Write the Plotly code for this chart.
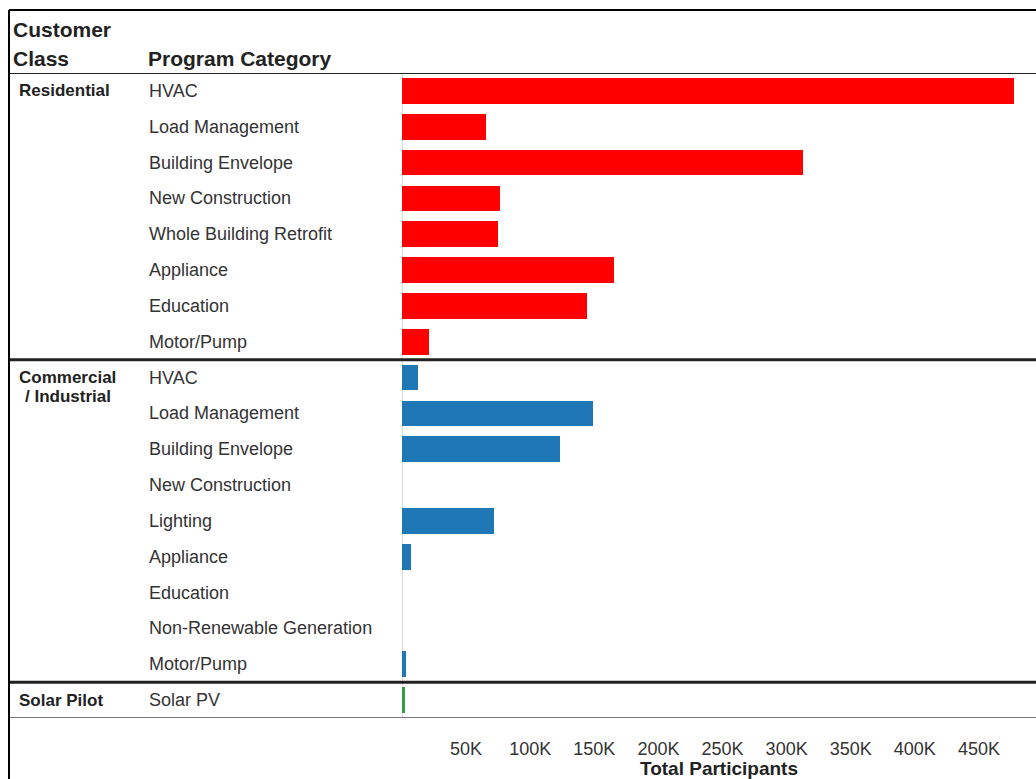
import plotly.graph_objects as go

W, H = 1036, 779

# Customer classes and their program categories (participants per category)
class_names = ["Residential", "Commercial<br>/ Industrial", "Solar Pilot"]
class_colors = ["#ff0000", "#1f77b6", "#2ca24a"]

residential_programs = ["HVAC", "Load Management", "Building Envelope", "New Construction",
                        "Whole Building Retrofit", "Appliance", "Education", "Motor/Pump"]
residential_values = [477000, 65500, 313000, 76500, 75000, 165000, 144500, 21000]

commercial_programs = ["HVAC", "Load Management", "Building Envelope", "New Construction",
                       "Lighting", "Appliance", "Education", "Non-Renewable Generation",
                       "Motor/Pump"]
commercial_values = [12500, 149000, 123000, 0, 72000, 7000, 0, 0, 3000]

solar_programs = ["Solar PV"]
solar_values = [2000]

tick_values = [50000, 100000, 150000, 200000, 250000, 300000, 350000, 400000, 450000]
tick_labels = ["50K", "100K", "150K", "200K", "250K", "300K", "350K", "400K", "450K"]

groups = [
    (class_names[0], residential_programs, residential_values, class_colors[0]),
    (class_names[1], commercial_programs, commercial_values, class_colors[1]),
    (class_names[2], solar_programs, solar_values, class_colors[2]),
]

FONT = "Liberation Sans, Arial, sans-serif"
ROW_PX = (718 - 73) / 18.0


def px_x(px):
    return px / W


def px_y(py):
    return 1 - py / H


fig = go.Figure()
annotations = []
shapes = []

label_font = dict(family=FONT, size=18, color="#333333")
class_font = dict(family=FONT, size=17, color="#222222")

row = 0
boundaries = [-0.5]
for name, programs, values, color in groups:
    rows = list(range(row, row + len(programs)))
    fig.add_trace(go.Bar(
        x=values, y=rows, orientation="h", width=0.72,
        marker=dict(color=color, line=dict(width=0)),
        name=name.replace("<br>", " "), showlegend=False,
        hovertext=programs,
    ))
    for r, p in zip(rows, programs):
        annotations.append(dict(
            x=px_x(147), xref="paper", y=r, yref="y", text=p, showarrow=False,
            xanchor="left", yanchor="middle", font=label_font,
        ))
    # class label: first line left-aligned on the first row, further lines centred under it
    lines = name.split("<br>")
    annotations.append(dict(
        x=px_x(17), xref="paper", y=row, yref="y", text="<b>%s</b>" % lines[0],
        showarrow=False, xanchor="left", yanchor="middle", font=class_font,
    ))
    for k, extra in enumerate(lines[1:], start=1):
        annotations.append(dict(
            x=px_x(68), xref="paper", y=row + k * 19 / ROW_PX, yref="y",
            text="<b>%s</b>" % extra, showarrow=False, xanchor="center",
            yanchor="middle", font=class_font,
        ))
    row += len(programs)
    boundaries.append(row - 0.5)

# Column headers
header_font = dict(family=FONT, size=21, color="#222222")
annotations.append(dict(
    x=px_x(11), xref="paper", y=px_y(30), yref="paper", text="<b>Customer</b>",
    showarrow=False, xanchor="left", yanchor="middle", font=header_font,
))
annotations.append(dict(
    x=px_x(11), xref="paper", y=px_y(58), yref="paper", text="<b>Class</b>",
    showarrow=False, xanchor="left", yanchor="middle", font=header_font,
))
annotations.append(dict(
    x=px_x(146), xref="paper", y=px_y(58), yref="paper", text="<b>Program Category</b>",
    showarrow=False, xanchor="left", yanchor="middle", font=header_font,
))

# Row-group separator lines
for i, b in enumerate(boundaries):
    last = i == len(boundaries) - 1
    shapes.append(dict(
        type="line", xref="paper", yref="y", x0=px_x(9), x1=1, y0=b, y1=b,
        line=dict(color="#777777" if last else "#222222", width=2 if (last or i == 0) else 3),
        layer="above",
    ))

# Outer frame (top and left)
shapes.append(dict(type="line", xref="paper", yref="paper", x0=px_x(9), x1=1,
                   y0=px_y(10), y1=px_y(10), line=dict(color="#000000", width=2)))
shapes.append(dict(type="line", xref="paper", yref="paper", x0=px_x(9), x1=px_x(9),
                   y0=px_y(10), y1=0, line=dict(color="#000000", width=2)))

fig.update_layout(
    width=W, height=H,
    margin=dict(l=0, r=0, t=0, b=0),
    paper_bgcolor="white", plot_bgcolor="white",
    bargap=0,
    xaxis=dict(
        domain=[px_x(402), 1], range=[0, 494500],
        tickvals=tick_values, ticktext=tick_labels,
        ticks="outside", ticklen=14, tickcolor="rgba(0,0,0,0)",
        tickfont=dict(family=FONT, size=18, color="#333333"),
        showgrid=False, zeroline=True, zerolinecolor="#d5dbe5", zerolinewidth=1,
        showline=False,
        title=dict(text="<b>Total Participants</b>", standoff=0,
                   font=dict(family=FONT, size=19, color="#222222")),
    ),
    yaxis=dict(
        domain=[px_y(718), px_y(73)], range=[17.5, -0.5],
        showticklabels=False, showgrid=False, zeroline=False, ticks="",
    ),
    annotations=annotations,
    shapes=shapes,
)

fig.write_html("out.html")
